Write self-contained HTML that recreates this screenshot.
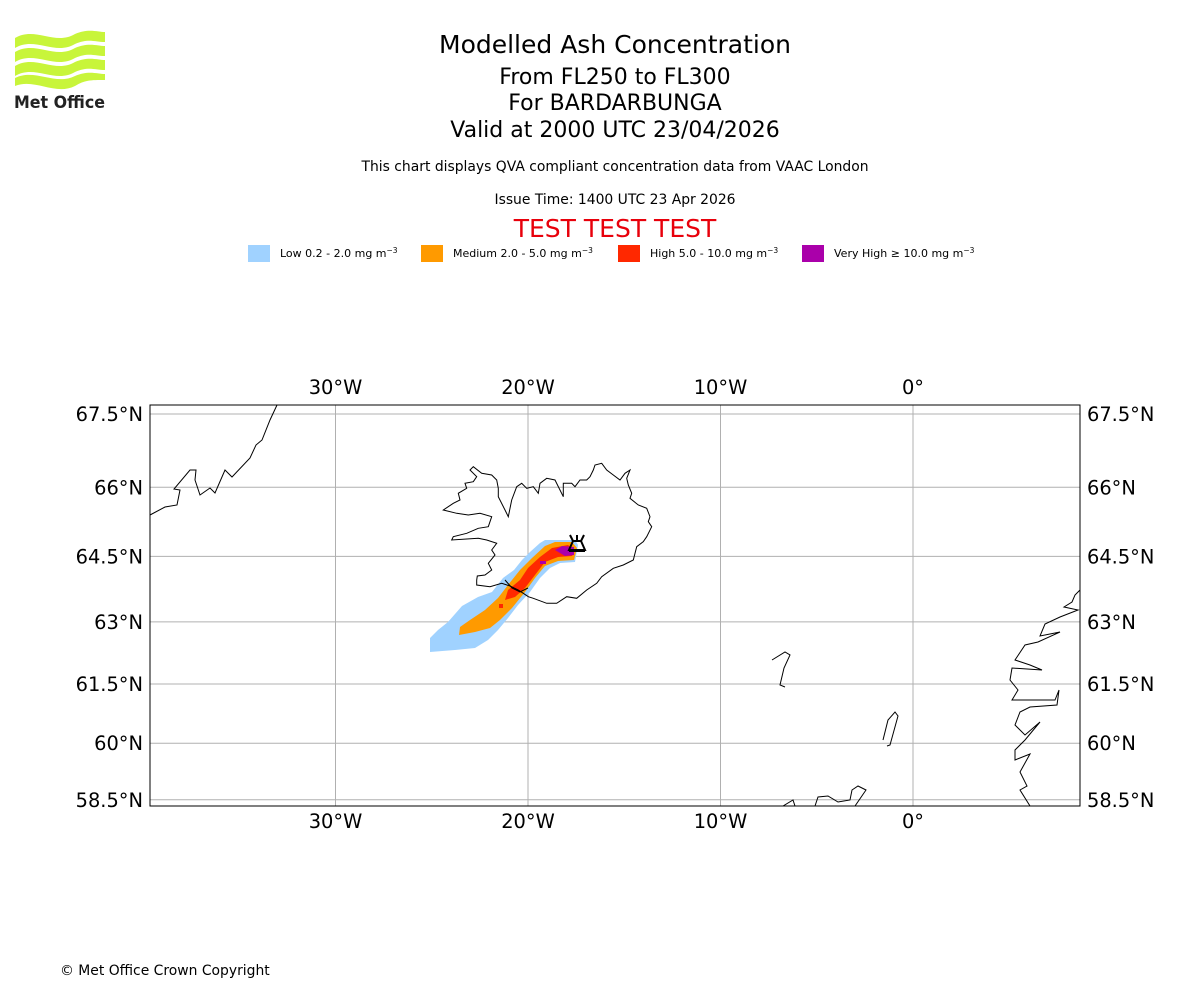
<!DOCTYPE html>
<html><head><meta charset="utf-8">
<style>
body{margin:0;background:#fff;width:1200px;height:1000px;overflow:hidden;font-family:"DejaVu Sans","Liberation Sans",sans-serif;}
svg text{font-family:"DejaVu Sans","Liberation Sans",sans-serif;}
</style></head>
<body>
<svg id="chart" width="1200" height="1000" viewBox="0 0 1200 1000" xmlns="http://www.w3.org/2000/svg">
  <g>
    <path d="M15,38 C35,26 55,46 75,34 C88,28 98,32 105,32 L105,42 C95,42 88,38 75,44 C55,56 35,36 15,48 Z" fill="#c8f53a"/>
    <path d="M15,52 C35,40 55,60 75,48 C88,42 98,46 105,46 L105,56 C95,56 88,52 75,58 C55,70 35,50 15,62 Z" fill="#c8f53a"/>
    <path d="M15,66 C35,54 55,74 75,62 C88,56 98,60 105,60 L105,70 C95,70 88,66 75,72 C55,84 35,64 15,76 Z" fill="#c8f53a"/>
    <path d="M15,78 C35,68 55,86 75,76 C88,70 98,74 105,74 L105,80 C90,80 85,80 75,86 C55,96 35,78 15,86 Z" fill="#c8f53a"/>
    <text x="14" y="108" font-size="17" font-weight="bold" fill="#222" textLength="91" lengthAdjust="spacingAndGlyphs">Met Office</text>
  </g>
  <g text-anchor="middle" fill="#000">
    <text x="615" y="53" font-size="25">Modelled Ash Concentration</text>
    <text x="615" y="84" font-size="22">From FL250 to FL300</text>
    <text x="615" y="110" font-size="22">For BARDARBUNGA</text>
    <text x="615" y="137" font-size="22">Valid at 2000 UTC 23/04/2026</text>
    <text x="615" y="171" font-size="13.9">This chart displays QVA compliant concentration data from VAAC London</text>
    <text x="615" y="204" font-size="13.9">Issue Time: 1400 UTC 23 Apr 2026</text>
    <text x="615" y="237" font-size="25" fill="#e8000b">TEST TEST TEST</text>
  </g>
  <g font-size="11">
    <rect x="248" y="245" width="22" height="17" fill="#a0d2ff"/>
    <text x="280" y="257">Low 0.2 - 2.0 mg m<tspan dy="-4" font-size="7.5">−3</tspan></text>
    <rect x="421" y="245" width="22" height="17" fill="#ff9a00"/>
    <text x="453" y="257">Medium 2.0 - 5.0 mg m<tspan dy="-4" font-size="7.5">−3</tspan></text>
    <rect x="618" y="245" width="22" height="17" fill="#ff2800"/>
    <text x="650" y="257">High 5.0 - 10.0 mg m<tspan dy="-4" font-size="7.5">−3</tspan></text>
    <rect x="802" y="245" width="22" height="17" fill="#aa00aa"/>
    <text x="834" y="257">Very High  ≥  10.0 mg m<tspan dy="-4" font-size="7.5">−3</tspan></text>
  </g>
  <defs><clipPath id="mapclip"><rect x="150" y="405" width="930" height="401"/></clipPath></defs>
  <g id="grid"></g>
  <g id="map" clip-path="url(#mapclip)"></g>
  <rect x="150" y="405" width="930" height="401" fill="none" stroke="#000" stroke-width="1"/>
  <g id="ticks" font-size="19.4"></g>
  <text x="60" y="975" font-size="13.9">© Met Office Crown Copyright</text>
</svg>
<script>
const lonTicks = [-30, -20, -10, 0];
const lonLabels = ["30°W", "20°W", "10°W", "0°"];
const latTicks = [67.5, 66, 64.5, 63, 61.5, 60, 58.5];
const latLabels = ["67.5°N", "66°N", "64.5°N", "63°N", "61.5°N", "60°N", "58.5°N"];
const NS = "http://www.w3.org/2000/svg";
function merc(lat){return Math.log(Math.tan(Math.PI/4+lat*Math.PI/360));}
function xOf(lon){return 913+lon*19.25;}
function yOf(lat){return 414+(merc(67.5)-merc(lat))*1105;}
function mk(tag,attrs,parent){const e=document.createElementNS(NS,tag);for(const k in attrs)e.setAttribute(k,attrs[k]);parent.appendChild(e);return e;}
const grid=document.getElementById('grid'), ticks=document.getElementById('ticks'), map=document.getElementById('map');
lonTicks.forEach((lon,i)=>{
  const l=mk('line',{x1:xOf(lon),x2:xOf(lon),y1:405,y2:806,stroke:'#b0b0b0','stroke-width':1},grid);
  
  
  ['top','bottom'].forEach(p=>{
    const t=mk('text',{x:xOf(lon),y:p==='top'?394:828,'text-anchor':'middle'},ticks);
    t.textContent=lonLabels[i];
    
    
  });
});
latTicks.forEach((lat,i)=>{
  const l=mk('line',{x1:150,x2:1080,y1:yOf(lat),y2:yOf(lat),stroke:'#b0b0b0','stroke-width':1},grid);
  
  
  const t1=mk('text',{x:143,y:yOf(lat)+7,'text-anchor':'end'},ticks);
  t1.textContent=latLabels[i];
  
  
  const t2=mk('text',{x:1087,y:yOf(lat)+7,'text-anchor':'start'},ticks);
  t2.textContent=latLabels[i];
  
  
});
const plume=[
 ['ash-low','#a0d2ff',"430,652 430,638 438,630 448,622 462,606 478,597 492,592 503,578 514,570 522,560 530,552 540,543 545,540 575,540 578,545 575,562 560,563 550,568 540,578 530,592 518,605 508,618 498,630 488,640 475,648 455,650"],
 ['ash-medium','#ff9a00',"459,635 460,627 470,620 485,610 498,598 508,585 520,570 532,558 545,546 555,542 572,542 577,548 574,560 558,561 545,566 535,578 525,592 512,608 500,620 490,628 475,632"],
 ['ash-high','#ff2800',"505,600 508,590 520,580 528,568 540,557 552,548 568,545 575,550 572,556 558,557 545,562 535,575 525,588 515,597"],
 ['ash-very-high','#aa00aa',"555,550 562,546 574,547 574,555 565,556"],
 ['ash-very-high-spot','#aa00aa',"540,561 546,561 546,564 540,564"],
 ['ash-high-spot','#ff2800',"499,604 503,604 503,608 499,608"]
];
plume.forEach(p=>{
  const e=mk('polygon',{points:p[2],fill:p[1]},map);
  
  
});
const ice=[[170,390],[172,378],[195,375],[215,360],[205,340],[225,315],[215,300],[230,280],[200,270],[175,265],[95,270],[100,260],[140,250],[175,235],[205,230],[215,200],[180,190],[145,195],[110,190],[70,180],[100,160],[120,150],[115,130],[140,115],[135,100],[160,95],[170,80],[150,60],[160,50],[185,70],[215,75],[230,90],[235,115],[235,140],[255,180],[265,200],[275,150],[290,110],[305,100],[320,115],[340,110],[355,130],[360,100],[380,85],[405,90],[430,140],[430,100],[455,100],[465,110],[480,90],[500,90],[510,80],[520,60],[525,45],[545,40],[560,60],[580,75],[600,90],[615,70],[630,60],[620,85],[625,105],[635,130],[630,145],[655,165],[680,175],[690,200],[685,215],[695,230],[680,260],[670,275],[650,290],[640,330],[610,345],[580,355],[545,380],[530,400],[500,420],[470,445],[440,440],[410,460],[380,460],[340,445],[325,440],[310,430],[295,420],[270,408],[245,400],[210,410],[170,405],[170,390]];
const coasts=[
 ['iceland-coast', ice.map(p=>(420+p[0]/3).toFixed(1)+','+(450+p[1]/3).toFixed(1)).join(' ')+' Z'],
 ['greenland-coast',"150,515 165,507 177,505 180,490 174,489 190,470 196,470 195,480 200,495 210,488 215,493 225,470 232,477 250,458 256,445 262,440 270,420 277,405"],
 ['reykjanes-line',"505,580 512,588 520,592 528,588"],
 ['faroes',"772,660 785,652 790,655 784,668 780,685 785,687"],
 ['shetland',"883,740 888,720 895,712 898,716 890,745 887,746"],
 ['scotland-north',"783,806 793,800 795,806 M815,806 818,797 828,796 838,802 850,800 852,790 858,786 866,790 855,806"],
 ['norway-coast',"1080,590 1075,595 1072,602 1064,607 1078,610 1060,617 1045,624 1040,636 1060,632 1038,642 1025,645 1015,660 1030,665 1042,670 1012,668 1010,680 1018,690 1012,700 1055,700 1059,690 1057,705 1030,707 1020,712 1015,725 1025,735 1040,722 1025,740 1015,750 1015,760 1030,754 1020,772 1027,786 1020,790 1030,806"]
];
coasts.forEach(c=>{
  const d='M'+c[1];
  const e=mk('path',{d:d,fill:'none',stroke:'#000','stroke-width':1},map);
  
  
});
const v=mk('path',{d:'M569,550 L573,541 L581,541 L585,550 Z M569,551 L585,551 M573,541 L570,535 M577,541 L577,535 M581,541 L584,535',fill:'none',stroke:'#000','stroke-width':2},map);


</script>
</body></html>
